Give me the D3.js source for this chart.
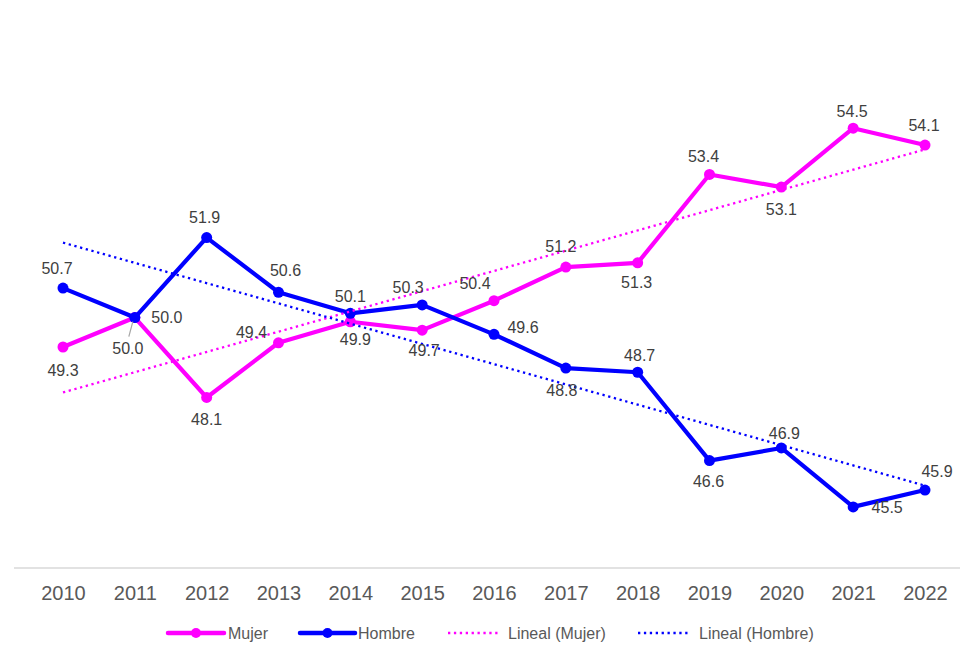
<!DOCTYPE html>
<html>
<head>
<meta charset="utf-8">
<script src="https://cdn.jsdelivr.net/npm/d3@7"></script>
<style>
  html, body { margin: 0; padding: 0; background: #fff; }
  svg { display: block; font-family: "Liberation Sans", Arial, sans-serif; }
</style>
</head>
<body>
<svg id="chart" width="980" height="662"></svg>
<script>
const years = ["2010","2011","2012","2013","2014","2015","2016","2017","2018","2019","2020","2021","2022"];
const mujer = [49.3, 50.0, 48.1, 49.4, 49.9, 49.7, 50.4, 51.2, 51.3, 53.4, 53.1, 54.5, 54.1];
const hombre = [50.7, 50.0, 51.9, 50.6, 50.1, 50.3, 49.6, 48.8, 48.7, 46.6, 46.9, 45.5, 45.9];
const seriesNames = ["Mujer", "Hombre", "Lineal (Mujer)", "Lineal (Hombre)"];

// label offsets (layout only)
const mujerLabelOff = [[0,23],[-7,31],[0,22],[-27,-10],[5,18],[2,20],[-19,-17],[-5,-21],[-1,20],[-6,-18],[0,22],[-1,-17],[-1,-20]];
const hombreLabelOff = [[-6,-20],[32,0],[-2,-20],[7,-22],[0,-17],[-14,-18],[29,-7],[-4,22],[2,-17],[-1,21],[3,-15],[34,1],[12,-19]];

const svg = d3.select("#chart");
const x = d3.scalePoint().domain(years).range([63, 925]);
const y = d3.scaleLinear().domain([44, 57]).range([570, 23]);

const MAG = "#FF00FF", BLU = "#0000FF";

// axis
const xAxis = d3.axisBottom(x).tickSize(0).tickPadding(0);
const gx = svg.append("g").attr("transform", "translate(0,568)").call(xAxis);
gx.select(".domain").remove();
svg.append("line").attr("x1", 14).attr("x2", 960).attr("y1", 568).attr("y2", 568)
  .attr("stroke", "#d9d9d9").attr("stroke-width", 1.5);
gx.selectAll("text").attr("y", 25).attr("dy", "0.35em")
  .attr("font-size", 20).attr("fill", "#595959")
  .attr("font-family", "Liberation Sans, Arial, sans-serif");

// linear regression trend
function trend(vals) {
  const n = vals.length;
  const xs = d3.range(n);
  const mx = d3.mean(xs), my = d3.mean(vals);
  let sxy = 0, sxx = 0;
  xs.forEach((xi, i) => { sxy += (xi - mx) * (vals[i] - my); sxx += (xi - mx) ** 2; });
  const b = sxy / sxx, a = my - b * mx;
  return [[years[0], a], [years[n - 1], a + b * (n - 1)]];
}

const line = d3.line().x(d => x(d[0])).y(d => y(d[1]));

function drawSeries(vals, color) {
  const pts = years.map((yr, i) => [yr, vals[i]]);
  svg.append("path").attr("d", line(pts)).attr("fill", "none")
    .attr("stroke", color).attr("stroke-width", 4.2).attr("stroke-linejoin", "round");
  svg.append("g").selectAll("circle").data(pts).join("circle")
    .attr("cx", d => x(d[0])).attr("cy", d => y(d[1])).attr("r", 5.5).attr("fill", color);
}

drawSeries(mujer, MAG);
drawSeries(hombre, BLU);

function drawTrend(vals, color) {
  svg.append("path").attr("d", line(trend(vals))).attr("fill", "none")
    .attr("stroke", color).attr("stroke-width", 2.3).attr("stroke-dasharray", "2.3,3.6");
}
drawTrend(mujer, MAG);
drawTrend(hombre, BLU);

// leader line for Mujer 2011
svg.append("line")
  .attr("x1", x(years[1]) - 2).attr("y1", y(mujer[1]) + 4)
  .attr("x2", x(years[1]) - 6).attr("y2", y(mujer[1]) + 19)
  .attr("stroke", "#a6a6a6").attr("stroke-width", 1.2);

function drawLabels(vals, offs) {
  svg.append("g").selectAll("text").data(vals).join("text")
    .attr("x", (d, i) => x(years[i]) + offs[i][0])
    .attr("y", (d, i) => y(d) + offs[i][1])
    .attr("text-anchor", "middle").attr("dy", "0.35em")
    .attr("font-size", 16).attr("fill", "#404040")
    .text(d => d.toFixed(1));
}
drawLabels(mujer, mujerLabelOff);
drawLabels(hombre, hombreLabelOff);

// legend
const lg = svg.append("g").attr("transform", "translate(0,633)");
const legendItems = [
  { name: seriesNames[0], color: MAG, x1: 168, x2: 224, dotted: false, tx: 228 },
  { name: seriesNames[1], color: BLU, x1: 300, x2: 355, dotted: false, tx: 358 },
  { name: seriesNames[2], color: MAG, x1: 448, x2: 498, dotted: true, tx: 508 },
  { name: seriesNames[3], color: BLU, x1: 638, x2: 688, dotted: true, tx: 699 }
];
legendItems.forEach(it => {
  const l = lg.append("line").attr("x1", it.x1).attr("x2", it.x2).attr("y1", 0).attr("y2", 0)
    .attr("stroke", it.color);
  if (it.dotted) {
    l.attr("stroke-width", 2.3).attr("stroke-dasharray", "2.3,3.6");
  } else {
    l.attr("stroke-width", 4.5).attr("stroke-linecap", "round");
    lg.append("circle").attr("cx", (it.x1 + it.x2) / 2).attr("cy", 0).attr("r", 5).attr("fill", it.color);
  }
  lg.append("text").attr("x", it.tx).attr("y", 0).attr("dy", "0.35em")
    .attr("font-size", 16).attr("fill", "#595959").text(it.name);
});
</script>
</body>
</html>
